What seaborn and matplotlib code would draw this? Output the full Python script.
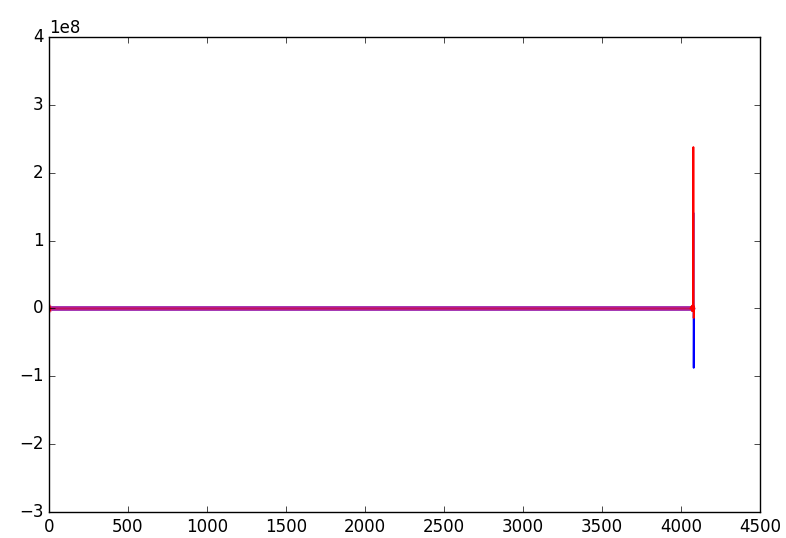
import matplotlib
matplotlib.use("Agg")
import matplotlib.pyplot as plt
import seaborn as sns
import pandas as pd

# Data (y in units of 1e8 -> scaled below)
blue_x = [0, 4, 8, 1000, 2000, 3000, 4060, 4070, 4076, 4078, 4080, 4082, 4084]
blue_y = [0.0, -0.005, 0.0, 0.0, 0.0, 0.0, 0.0, -0.005, 0.01, 1.41, -0.875, 0.02, 0.0]
red_x = [0, 2, 4, 6, 8, 1000, 2000, 3000, 4060, 4066, 4070, 4073, 4076, 4078, 4080, 4082, 4084]
red_y = [0.0, 0.03, -0.03, 0.01, 0.0, 0.0, 0.0, 0.0, 0.0, 0.03, -0.04, 0.05, -0.03, 2.38, -0.14, 0.03, 0.0]

xticks = [0, 500, 1000, 1500, 2000, 2500, 3000, 3500, 4000, 4500]
yticks = [-3, -2, -1, 0, 1, 2, 3, 4]

plt.style.use("classic")
plt.rcParams["font.family"] = ["DejaVu Sans"]
plt.rcParams["axes.unicode_minus"] = True

fig = plt.figure(figsize=(7.86, 5.38), dpi=100, facecolor="white")
ax = fig.add_axes([0.0623, 0.0483, 0.967 - 0.0623, 0.931 - 0.0483])
ax.set_facecolor("white")

dfb = pd.DataFrame({"x": blue_x, "y": [v * 1e8 for v in blue_y]})
dfr = pd.DataFrame({"x": red_x, "y": [v * 1e8 for v in red_y]})
split = 4060
# dense near-zero band (blue and red overlapping -> magenta/pink)
sns.lineplot(data=dfb[dfb.x <= split], x="x", y="y", color="blue", lw=3.2,
             estimator=None, sort=False, ax=ax)
sns.lineplot(data=dfr[dfr.x <= split], x="x", y="y", color="#ff3070", lw=3.2, alpha=0.72,
             estimator=None, sort=False, ax=ax)
sns.lineplot(data=dfr[dfr.x <= split], x="x", y="y", color="#c01050", lw=1.2, alpha=0.8,
             estimator=None, sort=False, ax=ax)
# spike region
sns.lineplot(data=dfb[dfb.x >= 4070], x="x", y="y", color="blue", lw=1.3,
             estimator=None, sort=False, ax=ax)
sns.lineplot(data=dfr[dfr.x >= split], x="x", y="y", color="red", lw=1.3,
             estimator=None, sort=False, ax=ax)
sns.lineplot(data=dfr[dfr.x <= 8], x="x", y="y", color="red", lw=1.6,
             estimator=None, sort=False, ax=ax)

ax.set_xlim(0, 4500)
ax.set_ylim(-3e8, 4e8)
ax.set_xticks(xticks)
ax.set_yticks([v * 1e8 for v in yticks])
ax.set_xlabel("")
ax.set_ylabel("")
ax.tick_params(labelsize=12)

fig.savefig("out.png", dpi=100, facecolor="white")
